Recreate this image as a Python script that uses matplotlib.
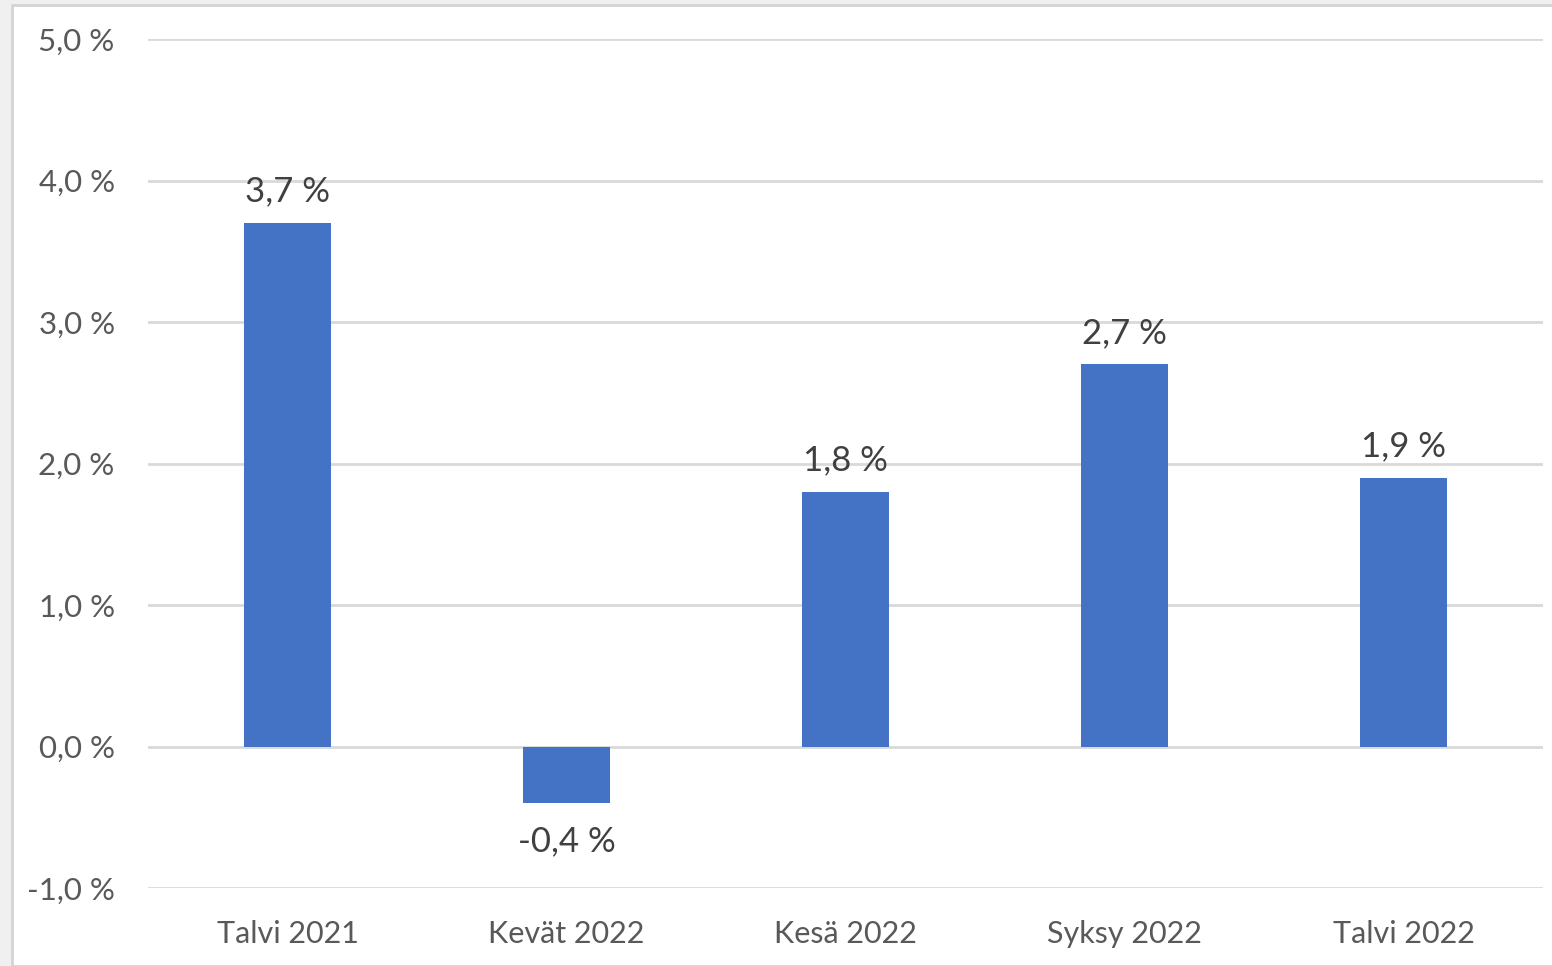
import matplotlib.pyplot as plt
from matplotlib.patches import Rectangle

categories = ["Talvi 2021", "Kevät 2022", "Kesä 2022", "Syksy 2022", "Talvi 2022"]
values = [3.7, -0.4, 1.8, 2.7, 1.9]
yticks = [-1.0, 0.0, 1.0, 2.0, 3.0, 4.0, 5.0]


def fmt(v):
    return f"{v:.1f}".replace(".", ",") + " %"


plt.rcParams["font.family"] = ["Lato", "DejaVu Sans"]

fig = plt.figure(figsize=(15.52, 9.66), dpi=100)
fig.patch.set_facecolor("#f0f0f0")
fig.patches.append(Rectangle((12 / 1552, 0), 1.0, 1 - 5 / 966, transform=fig.transFigure,
                             facecolor="white", edgecolor="#d4d4d4", linewidth=2, zorder=-10))

ax = fig.add_axes([148 / 1552, 1 - 888 / 966, (1543 - 148) / 1552, (888 - 39) / 966])
ax.set_facecolor("none")

x = range(len(categories))
ax.bar(x, values, width=0.315, color="#4472C4", zorder=3)

for i, v in enumerate(values):
    if v >= 0:
        ax.annotate(fmt(v), (i, v), xytext=(0, 11), textcoords="offset points",
                    ha="center", va="bottom", fontsize=25, color="#404040")
    else:
        ax.annotate(fmt(v), (i, v), xytext=(0, -16), textcoords="offset points",
                    ha="center", va="top", fontsize=25, color="#404040")

ax.set_xlim(-0.5, len(categories) - 0.5)
ax.set_ylim(-1.0, 5.0)
ax.set_yticks(yticks)
ax.set_yticklabels([fmt(t) for t in yticks])
ax.set_xticks(list(x))
ax.set_xticklabels(categories)
ax.tick_params(axis="y", length=0, pad=24, labelsize=22.5, labelcolor="#595959")
ax.tick_params(axis="x", length=0, pad=23, labelsize=22, labelcolor="#595959")

ax.grid(axis="y", color="#d9d9d9", linewidth=2, zorder=0)
ax.set_axisbelow(True)
for s in ax.spines.values():
    s.set_visible(False)

plt.savefig("out.png", dpi=100, facecolor=fig.get_facecolor())
plt.close()
